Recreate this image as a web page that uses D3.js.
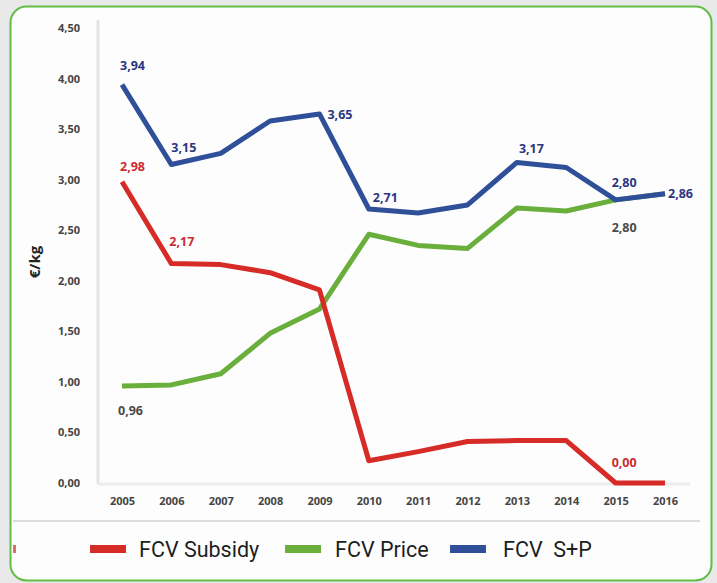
<!DOCTYPE html>
<html><head><meta charset="utf-8">
<script src="https://cdn.jsdelivr.net/npm/d3@7"></script>
<style>html,body{margin:0;padding:0;background:#e9e9e9;}svg{display:block;}</style>
</head><body>
<script>
const years = ["2005","2006","2007","2008","2009","2010","2011","2012","2013","2014","2015","2016"];
const subsidy = [2.98,2.17,2.16,2.08,1.91,0.22,0.31,0.41,0.42,0.42,0.00,0.00];
const price   = [0.96,0.97,1.08,1.48,1.72,2.46,2.35,2.32,2.72,2.69,2.80,2.86];
const sp      = [3.94,3.15,3.26,3.58,3.65,2.71,2.67,2.75,3.17,3.12,2.80,2.86];
const yTicks  = [0,0.5,1,1.5,2,2.5,3,3.5,4,4.5];
const seriesNames = ["FCV Subsidy","FCV Price","FCV  S+P"];
const seriesColors = ["#d62b26","#6aae3c","#2f4f99"];
// labels: [seriesIndex, yearIndex, text, dx, dy, colour]
const labels = [
  [2,0,"3,94",-2,-19,"#2c3680"],
  [2,1,"3,15",0,-17,"#2c3680"],
  [2,4,"3,65",8,1,"#2c3680"],
  [2,5,"2,71",4,-11,"#2c3680"],
  [2,8,"3,17",2,-14,"#2c3680"],
  [2,10,"2,80",-4,-17,"#2c3680"],
  [2,11,"2,86",3,0,"#2c3680"],
  [0,0,"2,98",-2,-15,"#cc2a30"],
  [0,1,"2,17",-2,-22,"#cc2a30"],
  [0,10,"0,00",-4,-20,"#cc2a30"],
  [1,0,"0,96",-4,25,"#4a4a4a"],
  [1,10,"2,80",-4,28,"#4a4a4a"]
];

const W=717,H=583;
const svg=d3.select("body").append("svg").attr("width",W).attr("height",H);
svg.append("rect").attr("x",0).attr("y",0).attr("width",W).attr("height",H).attr("fill","#e9e9e9");
svg.append("rect").attr("x",10.5).attr("y",6.5).attr("width",701).attr("height",574).attr("rx",16)
  .attr("fill","#fdfdfd").attr("stroke","#62bd45").attr("stroke-width",2);

const x=d3.scalePoint().domain(years).range([122,665]);
const y=d3.scaleLinear().domain([0,4.5]).range([483,28]);

// plot frame lines
svg.append("line").attr("x1",98).attr("x2",98).attr("y1",20).attr("y2",484).attr("stroke","#e4e4e4").attr("stroke-width",3);
svg.append("line").attr("x1",98).attr("x2",690).attr("y1",484).attr("y2",484).attr("stroke","#ececec").attr("stroke-width",3);

// y axis
const yAxis=d3.axisLeft(y).tickValues(yTicks).tickSize(0).tickPadding(0)
  .tickFormat(d=>d3.format(".2f")(d).replace(".",","));
const gy=svg.append("g").attr("transform","translate(80,0)").call(yAxis);
gy.select(".domain").remove();
gy.selectAll("text").attr("font-family","Open Sans, sans-serif").attr("font-size",11).attr("font-weight","bold").attr("fill","#454545");

// x axis
const xAxis=d3.axisBottom(x).tickSize(0).tickPadding(0);
const gx=svg.append("g").attr("transform","translate(0,497)").call(xAxis);
gx.select(".domain").remove();
gx.selectAll("text").attr("font-family","Open Sans, sans-serif").attr("font-size",11).attr("font-weight","bold").attr("fill","#454545");

// y title
svg.append("text").attr("transform","translate(40,262) rotate(-90)").attr("text-anchor","middle")
  .attr("font-family","Open Sans, sans-serif").attr("font-size",15).attr("font-weight","bold").attr("fill","#222").text("€/kg");

const line=d3.line().x((d,i)=>x(years[i])).y(d=>y(d));
const data=[subsidy,price,sp];
[1,0,2].forEach(s=>{
  svg.append("path").datum(data[s]).attr("d",line).attr("fill","none")
    .attr("stroke",seriesColors[s]).attr("stroke-width",5).attr("stroke-linejoin","round").attr("stroke-linecap","butt");
});

labels.forEach(([s,i,t,dx,dy,c])=>{
  svg.append("text").attr("x",x(years[i])+dx).attr("y",y(data[s][i])+dy).attr("dy","0.35em")
    .attr("font-family","Open Sans, sans-serif").attr("font-size",12.5).attr("font-weight","bold")
    .attr("fill",c).text(t);
});

// separator and legend
svg.append("line").attr("x1",13).attr("x2",700).attr("y1",521).attr("y2",521).attr("stroke","#dcdcdc").attr("stroke-width",2);
svg.append("rect").attr("x",13).attr("y",545).attr("width",3).attr("height",8).attr("fill",seriesColors[0]).attr("opacity",0.7);
const legX=[90,285,450], legTX=[139,335,503];
seriesNames.forEach((n,i)=>{
  svg.append("rect").attr("x",legX[i]).attr("y",545).attr("width",36).attr("height",8).attr("fill",seriesColors[i]);
  svg.append("text").attr("x",legTX[i]).attr("y",549).attr("dy","0.35em")
    .attr("font-family","Roboto, sans-serif").attr("font-size",21.5).attr("fill","#1e1e1e").text(n).style("white-space","pre");
});
</script>
</body></html>
